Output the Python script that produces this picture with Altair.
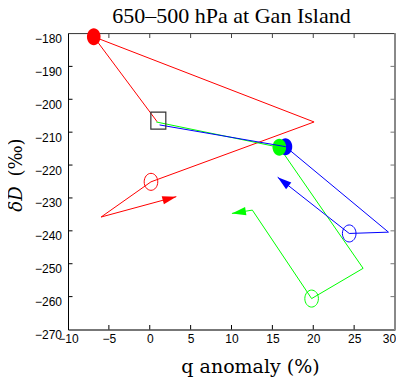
import math
import altair as alt
import pandas as pd

# ---- data ----
q_ticks = [-10, -5, 0, 5, 10, 15, 20, 25, 30]
d_ticks = [-270, -260, -250, -240, -230, -220, -210, -200, -190, -180]

red_q = [0.9, -6.85, 20.1, 0.15, -5.95, 3.25]
red_d = [-206.8, -181.0, -206.9, -225.1, -235.8, -229.6]

blue_q = [1.2, 16.6, 29.2, 24.4, 15.65]
blue_d = [-207.8, -214.4, -240.4, -240.8, -223.7]

green_q = [0.8, 15.85, 26.1, 19.8, 12.55, 10.05]
green_d = [-206.9, -214.6, -251.4, -260.6, -233.7, -234.7]

start_q = [1.05]
start_d = [-206.5]

title_text = "650–500 hPa at Gan Island"

RED, GREEN, BLUE = "#ff0000", "#00ff00", "#0000ff"
W, H = 327, 296

xs = alt.Scale(domain=[-10, 30], nice=False, zero=False)
ys = alt.Scale(domain=[-270, -180], nice=False, zero=False)

xaxis = alt.Axis(values=q_ticks, ticks=False, tickSize=0, grid=False,
                 domainColor="black", domainWidth=1,
                 labelFont="Liberation Sans", labelFontSize=12, labelColor="black",
                 labelPadding=3.5, labelFlush=False, labelOverlap=False,
                 labelOffset={"condition": {"test": "datum.value == 30", "value": -6},
                              "value": 0},
                 title="q anomaly (%)", titleFont="DejaVu Serif", titleFontSize=19,
                 titleFontWeight="normal", titleColor="black",
                 titleX=182, titleY=43, titleAlign="center", titleBaseline="alphabetic")
yaxis = alt.Axis(values=d_ticks, ticks=False, tickSize=0, grid=False,
                 domainColor="black", domainWidth=1,
                 labelFont="Liberation Sans", labelFontSize=12, labelColor="black",
                 labelPadding=6.5, labelOffset=5, labelFlush=False, labelOverlap=False,
                 labelBaseline="middle", title=None)

X = alt.X("q:Q", scale=xs, axis=xaxis)
Y = alt.Y("d:Q", scale=ys, axis=yaxis)


def df(qs, ds):
    return pd.DataFrame({"q": qs, "d": ds, "i": list(range(len(qs)))})


def line(qs, ds, color):
    return alt.Chart(df(qs, ds)).mark_line(color=color, strokeWidth=1).encode(
        x=X, y=Y, order="i:Q")


ELL = "M0,-1A0.8,1 0 1,1 0,1A0.8,1 0 1,1 0,-1Z"
SQ = "M-0.88,-1H0.88V1H-0.88Z"
ARROW = "M0,0L-2,-0.6L-2,0.6Z"


def pt(qs, ds, idx, color, filled):
    return alt.Chart(df([qs[idx]], [ds[idx]])).mark_point(
        shape=ELL, size=289, filled=filled, color=color, opacity=1,
        strokeWidth=1).encode(x=X, y=Y)


def arrow(qs, ds, color):
    dx = (qs[-1] - qs[-2]) * W / 40.0
    dy = -(ds[-1] - ds[-2]) * H / 90.0
    ang = math.degrees(math.atan2(dy, dx)) % 360
    d = df([qs[-1]], [ds[-1]])
    d["ang"] = ang
    return alt.Chart(d).mark_point(shape=ARROW, size=196, filled=True,
                                   color=color, opacity=1).encode(
        x=X, y=Y, angle=alt.Angle("ang:Q", scale=None))


xt = pd.DataFrame({"q": q_ticks[1:-1]})
yt = pd.DataFrame({"d": d_ticks[1:-1]})
TL = 4.5
ticks = [
    alt.Chart(xt).mark_rule(color="black", strokeWidth=1).encode(
        x=X, y=alt.value(H), y2=alt.value(H - TL)),
    alt.Chart(xt).mark_rule(color="#444", strokeWidth=1).encode(
        x=X, y=alt.value(0), y2=alt.value(TL)),
    alt.Chart(yt).mark_rule(color="black", strokeWidth=1).encode(
        y=Y, x=alt.value(0), x2=alt.value(TL)),
    alt.Chart(yt).mark_rule(color="#777", strokeWidth=1).encode(
        y=Y, x=alt.value(W), x2=alt.value(W - TL)),
]
border = [
    alt.Chart(xt).mark_rule(color="#444", strokeWidth=1).encode(
        x=alt.value(0), x2=alt.value(W), y=alt.value(0)),
    alt.Chart(xt).mark_rule(color="#888", strokeWidth=1).encode(
        x=alt.value(W), y=alt.value(0), y2=alt.value(H)),
]

texts = [
    alt.Chart(pd.DataFrame({"t": ["δD"]})).mark_text(
        font="DejaVu Serif", fontSize=18, fontStyle="italic", angle=270,
        align="center", baseline="alphabetic", color="black").encode(
        text="t:N", x=alt.value(-46.5), y=alt.value(165.5)),
    alt.Chart(pd.DataFrame({"t": ["(‰)"]})).mark_text(
        font="DejaVu Serif", fontSize=18, angle=270,
        align="center", baseline="alphabetic", color="black").encode(
        text="t:N", x=alt.value(-46.5), y=alt.value(124)),
    alt.Chart(pd.DataFrame({"t": [title_text]})).mark_text(
        font="Liberation Serif", fontSize=22, align="center",
        baseline="alphabetic", color="black").encode(
        text="t:N", x=alt.value(W / 2), y=alt.value(-10.2)),
]

layers = (
    border + ticks +
    [line(red_q, red_d, RED), pt(red_q, red_d, 1, RED, True),
     pt(red_q, red_d, 3, RED, False), arrow(red_q, red_d, RED),
     line(green_q, green_d, GREEN), pt(green_q, green_d, 3, GREEN, False),
     pt(blue_q, blue_d, 1, BLUE, True), pt(green_q, green_d, 1, GREEN, True),
     line(blue_q, blue_d, BLUE), pt(blue_q, blue_d, 3, BLUE, False),
     arrow(blue_q, blue_d, BLUE), arrow(green_q, green_d, GREEN),
     alt.Chart(df(start_q, start_d)).mark_point(
         shape=SQ, size=289, filled=False, color="#333", opacity=1,
         strokeWidth=1.2).encode(x=X, y=Y)]
    + texts
)

chart = alt.layer(*layers).properties(
    width=W, height=H,
    padding={"left": 60, "top": 25.5, "right": 1, "bottom": 49.5},
    autosize=alt.AutoSizeParams(type="none"),
).configure_view(stroke=None).configure(background="white")

chart.save("out.html", embed_options={"renderer": "svg", "actions": False})
